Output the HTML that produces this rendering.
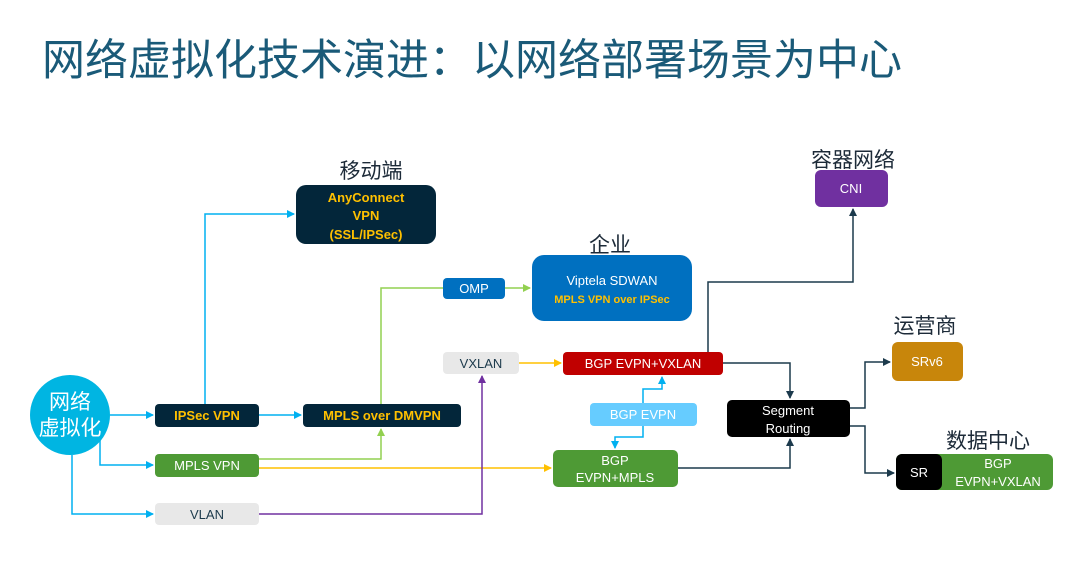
<!DOCTYPE html>
<html><head><meta charset="utf-8"><style>
html,body{margin:0;padding:0;background:#fff;}
svg{display:block;}
text{font-family:"Liberation Sans","Noto Sans CJK SC",sans-serif;}
</style></head><body>
<svg width="1080" height="561" viewBox="0 0 1080 561" xmlns="http://www.w3.org/2000/svg">
<defs>
<marker id="ac" markerWidth="8" markerHeight="8" refX="7" refY="4" orient="auto" markerUnits="userSpaceOnUse"><path d="M0,0 L8,4 L0,8z" fill="#00b0f0"/></marker>
<marker id="ag" markerWidth="8" markerHeight="8" refX="7" refY="4" orient="auto" markerUnits="userSpaceOnUse"><path d="M0,0 L8,4 L0,8z" fill="#92d050"/></marker>
<marker id="ay" markerWidth="8" markerHeight="8" refX="7" refY="4" orient="auto" markerUnits="userSpaceOnUse"><path d="M0,0 L8,4 L0,8z" fill="#ffc000"/></marker>
<marker id="ap" markerWidth="8" markerHeight="8" refX="7" refY="4" orient="auto" markerUnits="userSpaceOnUse"><path d="M0,0 L8,4 L0,8z" fill="#7030a0"/></marker>
<marker id="ad" markerWidth="8" markerHeight="8" refX="7" refY="4" orient="auto" markerUnits="userSpaceOnUse"><path d="M0,0 L8,4 L0,8z" fill="#1c3a4c"/></marker>
</defs>
<text x="42" y="75" font-size="43" fill="#1a5a78">网络虚拟化技术演进：以网络部署场景为中心</text>

<g fill="none" stroke-width="1.5">
<path d="M110 415 H153" stroke="#00b0f0" marker-end="url(#ac)"/>
<path d="M205 404 V214 H294" stroke="#00b0f0" marker-end="url(#ac)"/>
<path d="M259 415 H301" stroke="#00b0f0" marker-end="url(#ac)"/>
<path d="M100 440 V465 H153" stroke="#00b0f0" marker-end="url(#ac)"/>
<path d="M72 455 V514 H153" stroke="#00b0f0" marker-end="url(#ac)"/>
<path d="M259 459 H381 V429" stroke="#92d050" marker-end="url(#ag)"/>
<path d="M381 404 V288 H443" stroke="#92d050"/>
<path d="M505 288 H530" stroke="#92d050" marker-end="url(#ag)"/>
<path d="M259 468 H551" stroke="#ffc000" marker-end="url(#ay)"/>
<path d="M259 514 H482 V376" stroke="#7030a0" marker-end="url(#ap)"/>
<path d="M519 363 H561" stroke="#ffc000" marker-end="url(#ay)"/>
<path d="M643 403 V389 H662 V377" stroke="#00b0f0" marker-end="url(#ac)"/>
<path d="M643 426 V437 H615 V448" stroke="#00b0f0" marker-end="url(#ac)"/>
<path d="M708 352 V282 H853 V209" stroke="#1c3a4c" marker-end="url(#ad)"/>
<path d="M723 363 H790 V398" stroke="#1c3a4c" marker-end="url(#ad)"/>
<path d="M678 468 H790 V439" stroke="#1c3a4c" marker-end="url(#ad)"/>
<path d="M850 408 H865 V362 H890" stroke="#1c3a4c" marker-end="url(#ad)"/>
<path d="M850 426 H865 V473 H894" stroke="#1c3a4c" marker-end="url(#ad)"/>
</g>

<circle cx="70" cy="415" r="40" fill="#00b5e2"/>
<text x="70" y="409" font-size="21" fill="#fff" text-anchor="middle">网络</text>
<text x="70" y="435" font-size="21" fill="#fff" text-anchor="middle">虚拟化</text>

<g font-weight="bold" font-size="13" text-anchor="middle">
<rect x="155" y="404" width="104" height="23" rx="4" fill="#03263a"/>
<text x="207" y="420" fill="#ffc000">IPSec VPN</text>
<rect x="303" y="404" width="158" height="23" rx="4" fill="#03263a"/>
<text x="382" y="420" fill="#ffc000">MPLS over DMVPN</text>
<rect x="296" y="185" width="140" height="59" rx="10" fill="#03263a"/>
<text x="366" y="202" fill="#ffc000">AnyConnect</text>
<text x="366" y="220" fill="#ffc000">VPN</text>
<text x="366" y="239" fill="#ffc000">(SSL/IPSec)</text>
</g>

<g font-size="13" text-anchor="middle">
<rect x="155" y="454" width="104" height="23" rx="4" fill="#4e9a35"/>
<text x="207" y="470" fill="#fff">MPLS VPN</text>
<rect x="155" y="503" width="104" height="22" rx="4" fill="#e8e8e8"/>
<text x="207" y="519" fill="#1c3a4c">VLAN</text>
<rect x="443" y="278" width="62" height="21" rx="4" fill="#0070c0"/>
<text x="474" y="293" fill="#fff">OMP</text>
<rect x="532" y="255" width="160" height="66" rx="12" fill="#0070c0"/>
<text x="612" y="285" fill="#fff">Viptela SDWAN</text>
<text x="612" y="303" fill="#ffc000" font-size="11" font-weight="bold">MPLS VPN over IPSec</text>
<rect x="443" y="352" width="76" height="22" rx="4" fill="#e8e8e8"/>
<text x="481" y="368" fill="#1c3a4c">VXLAN</text>
<rect x="563" y="352" width="160" height="23" rx="4" fill="#c00000"/>
<text x="643" y="368" fill="#fff">BGP EVPN+VXLAN</text>
<rect x="590" y="403" width="107" height="23" rx="4" fill="#66ccff"/>
<text x="643" y="419" fill="#fff">BGP EVPN</text>
<rect x="553" y="450" width="125" height="37" rx="5" fill="#4e9a35"/>
<text x="615" y="465" fill="#fff">BGP</text>
<text x="615" y="482" fill="#fff">EVPN+MPLS</text>
<rect x="727" y="400" width="123" height="37" rx="5" fill="#000"/>
<text x="788" y="415" fill="#fff">Segment</text>
<text x="788" y="433" fill="#fff">Routing</text>
<rect x="815" y="170" width="73" height="37" rx="6" fill="#7030a0"/>
<text x="851" y="193" fill="#fff">CNI</text>
<rect x="892" y="342" width="71" height="39" rx="6" fill="#c8860b"/>
<text x="927" y="366" fill="#fff">SRv6</text>
<rect x="896" y="454" width="157" height="36" rx="6" fill="#4e9a35"/>
<rect x="896" y="454" width="46" height="36" rx="6" fill="#000"/>
<text x="919" y="477" fill="#fff">SR</text>
<text x="998" y="468" fill="#fff">BGP</text>
<text x="998" y="486" fill="#fff">EVPN+VXLAN</text>
</g>

<g font-size="21" fill="#1c2a38" text-anchor="middle">
<text x="371" y="178">移动端</text>
<text x="610" y="252">企业</text>
<text x="853" y="167">容器网络</text>
<text x="925" y="333">运营商</text>
<text x="988" y="448">数据中心</text>
</g>
</svg>
</body></html>
